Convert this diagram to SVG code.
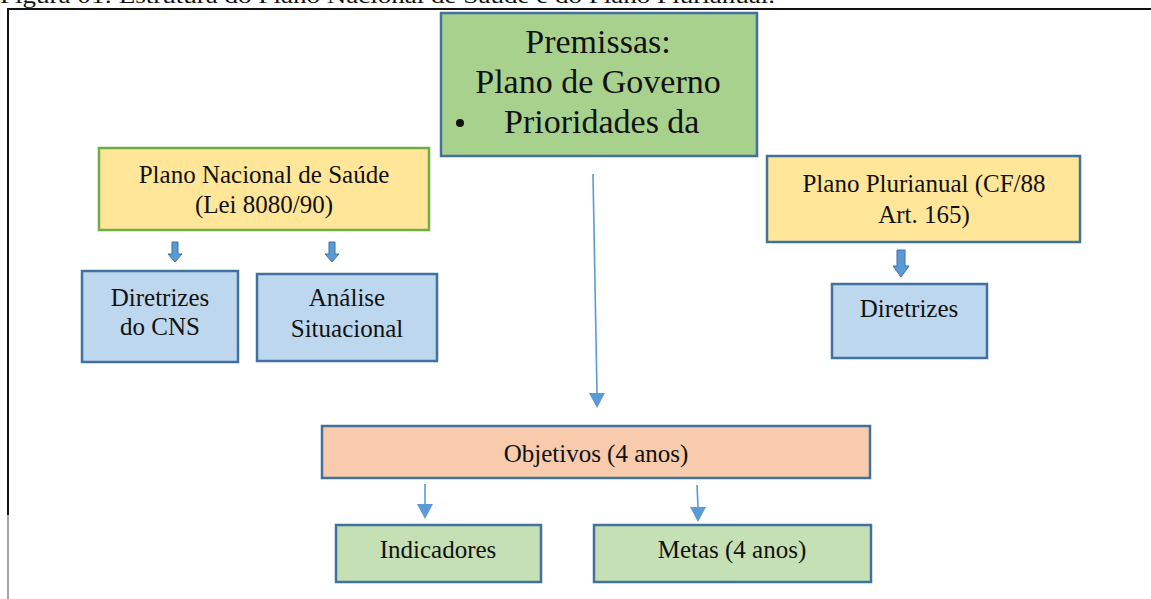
<svg xmlns="http://www.w3.org/2000/svg" width="1151" height="599" viewBox="0 0 1151 599">
<defs>
<style>
.t{font-family:"Liberation Serif","Times New Roman",serif;fill:#111;}
.s{font-size:25px;}
.p{font-size:34px;}
.b{stroke:#41719c;stroke-width:2.5;}
.conn{stroke:#5b9bd5;stroke-width:1.6;fill:none;}
.blk{fill:#5b9bd5;stroke:#41719c;stroke-width:1;}
.head{fill:#5b9bd5;}
</style>
</defs>
<rect x="0" y="0" width="1151" height="599" fill="#ffffff"/>
<text class="t" x="0" y="3" font-size="22" textLength="775" lengthAdjust="spacingAndGlyphs">Figura 01: Estrutura do Plano Nacional de Saúde e do Plano Plurianual.</text>
<g id="frame">
<line x1="7" y1="9" x2="1151" y2="9" stroke="#111" stroke-width="2"/>
<line x1="8" y1="9" x2="8" y2="515" stroke="#111" stroke-width="2"/>
<line x1="8" y1="515" x2="8" y2="599" stroke="#888" stroke-width="1.5"/>
</g>
<g id="premissas">
<rect x="441" y="13" width="316" height="143" fill="#a9d18e" class="b"/>
<text class="t p" x="598" y="53" text-anchor="middle">Premissas:</text>
<text class="t p" x="598" y="93" text-anchor="middle">Plano de Governo</text>
<circle cx="460" cy="123" r="4" fill="#111"/>
<text class="t p" x="504" y="133">Prioridades da</text>
</g>
<g id="plano-nacional">
<rect x="99" y="148" width="330" height="82" fill="#ffe699" stroke="#70ad47" stroke-width="2.5"/>
<text class="t s" x="264" y="183" text-anchor="middle">Plano Nacional de Saúde</text>
<text class="t s" x="264" y="213" text-anchor="middle">(Lei 8080/90)</text>
</g>
<g id="diretrizes-cns">
<rect x="82" y="271" width="156" height="91" fill="#bdd7ee" class="b"/>
<text class="t s" x="160" y="306" text-anchor="middle">Diretrizes</text>
<text class="t s" x="160" y="335" text-anchor="middle">do CNS</text>
</g>
<g id="analise">
<rect x="257" y="274" width="180" height="87" fill="#bdd7ee" class="b"/>
<text class="t s" x="347" y="306" text-anchor="middle">Análise</text>
<text class="t s" x="347" y="337" text-anchor="middle">Situacional</text>
</g>
<g id="plano-plurianual">
<rect x="767" y="156" width="313" height="86" fill="#ffe699" class="b"/>
<text class="t s" x="924" y="192" text-anchor="middle">Plano Plurianual (CF/88</text>
<text class="t s" x="924" y="223" text-anchor="middle">Art. 165)</text>
</g>
<g id="diretrizes">
<rect x="832" y="284" width="155" height="74" fill="#bdd7ee" class="b"/>
<text class="t s" x="909" y="317" text-anchor="middle">Diretrizes</text>
</g>
<g id="objetivos">
<rect x="322" y="426" width="548" height="52" fill="#f8cbad" class="b"/>
<text class="t s" x="596" y="462" text-anchor="middle">Objetivos (4 anos)</text>
</g>
<g id="indicadores">
<rect x="336" y="525" width="205" height="57" fill="#c5e0b4" class="b"/>
<text class="t s" x="438" y="558" text-anchor="middle">Indicadores</text>
</g>
<g id="metas">
<rect x="594" y="525" width="277" height="57" fill="#c5e0b4" class="b"/>
<text class="t s" x="732" y="558" text-anchor="middle">Metas (4 anos)</text>
</g>
<g id="connectors">
<path class="blk" d="M172,242 H178 V254 H182 L175,262 L168,254 H172 Z"/>
<path class="blk" d="M329,242 H335 V254 H339 L332,262 L325,254 H329 Z"/>
<path class="blk" d="M897,250 H905 V266 H909 L901,277 L893,266 H897 Z"/>
<line class="conn" x1="593" y1="174" x2="597" y2="393"/>
<path class="head" d="M589,393 L605,393 L597,408 Z"/>
<line class="conn" x1="425" y1="484" x2="425" y2="504"/>
<path class="head" d="M417,504 L433,504 L425,519 Z"/>
<line class="conn" x1="697" y1="485" x2="698" y2="507"/>
<path class="head" d="M690,507 L706,507 L698,522 Z"/>
</g>
</svg>
